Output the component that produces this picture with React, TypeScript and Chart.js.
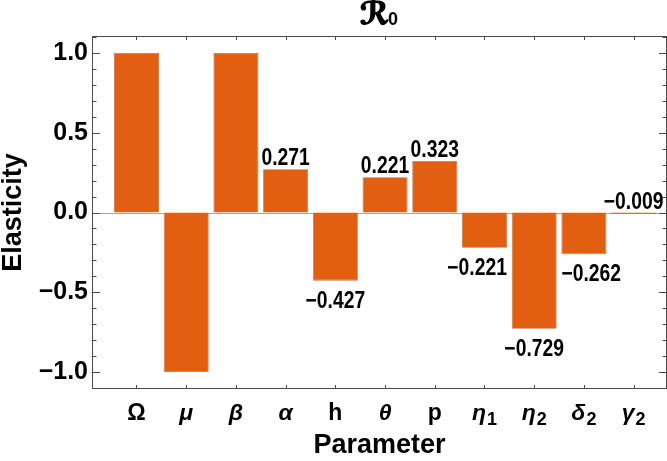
import { useEffect, useRef } from "react";
import { Chart, registerables } from "chart.js";

Chart.register(...registerables);

// parameters on the x axis (base symbol + subscript)
const paramSymbols = ["Ω", "μ", "β", "α", "h", "θ", "p", "η", "η", "δ", "γ"];
const paramSubscripts = ["", "", "", "", "", "", "", "1", "2", "2", "2"];
const italicParams = [false, true, true, true, false, true, false, true, true, true, true];

// elasticity indices of R0
const elasticity = [1.0, -1.0, 1.0, 0.271, -0.427, 0.221, 0.323, -0.221, -0.729, -0.262, -0.009];
const valueLabels = ["", "", "", "0.271", "−0.427", "0.221", "0.323", "−0.221", "−0.729", "−0.262", "−0.009"];

const yTicks = [-1, -0.5, 0, 0.5, 1];

// where each value label sits relative to its bar
const labelSide = ["", "", "", "above", "below", "above", "above", "below", "below", "below", "above"];
const labelAlign = ["center", "center", "center", "center", "center", "center", "center", "right", "center", "left", "center"];

const SANS = '"Liberation Sans", Arial, sans-serif';
const BAR_COLOR = "#E25E10";
const NARROW_SCALE = 0.84;

const fmt = (v: number) => v.toFixed(1).replace("-", "−");

const framePlugin = {
  id: "mmaFrame",
  beforeDatasetsDraw(chart: any) {
    const { ctx, chartArea: a, scales } = chart;
    const y0 = Math.round(scales.y.getPixelForValue(0)) + 0.5;
    ctx.save();
    ctx.strokeStyle = "#a6a6a6";
    ctx.lineWidth = 1;
    ctx.beginPath();
    ctx.moveTo(a.left, y0);
    ctx.lineTo(a.right, y0);
    ctx.stroke();
    ctx.restore();
  },
  afterDatasetsDraw(chart: any) {
    const { ctx, chartArea: a, scales } = chart;
    const xs = scales.x;
    const ys = scales.y;
    ctx.save();

    // frame
    ctx.strokeStyle = "#4a4a4a";
    ctx.lineWidth = 1;
    ctx.strokeRect(a.left + 0.5, a.top + 0.5, a.right - a.left - 1, a.bottom - a.top - 1);

    // inward ticks, left and right
    ctx.beginPath();
    const kMin = Math.ceil(ys.min * 10);
    const kMax = Math.floor(ys.max * 10);
    for (let k = kMin; k <= kMax; k++) {
      const py = Math.round(ys.getPixelForValue(k / 10)) + 0.5;
      const len = k % 5 === 0 ? 8 : 4.5;
      ctx.moveTo(a.left, py);
      ctx.lineTo(a.left + len, py);
      ctx.moveTo(a.right, py);
      ctx.lineTo(a.right - len, py);
    }
    // inward ticks, top and bottom (at bar centres)
    xs.ticks.forEach((t: any) => {
      const px = Math.round(xs.getPixelForValue(t.value)) + 0.5;
      ctx.moveTo(px, a.top);
      ctx.lineTo(px, a.top + 4);
      ctx.moveTo(px, a.bottom);
      ctx.lineTo(px, a.bottom - 4);
    });
    ctx.stroke();

    // value labels (condensed bold)
    const meta = chart.getDatasetMeta(0);
    ctx.fillStyle = "#000";
    ctx.font = `bold 23px ${SANS}`;
    ctx.textBaseline = "alphabetic";
    meta.data.forEach((bar: any, i: number) => {
      const txt = valueLabels[i];
      if (!txt) return;
      const { x, y, base, width } = bar.getProps(["x", "y", "base", "width"], true);
      const top = Math.min(y, base);
      const bottom = Math.max(y, base);
      const by = labelSide[i] === "above" ? top - 4 : bottom + 27;
      const tw = ctx.measureText(txt).width * NARROW_SCALE;
      let left = x - tw / 2;
      if (labelAlign[i] === "right") left = x + width / 2 - tw;
      else if (labelAlign[i] === "left") left = x - width / 2;
      ctx.save();
      ctx.translate(left, by);
      ctx.scale(NARROW_SCALE, 1);
      ctx.textAlign = "left";
      ctx.fillText(txt, 0, 0);
      ctx.restore();
    });

    // x tick labels with subscripts
    ctx.textAlign = "left";
    ctx.textBaseline = "alphabetic";
    const mainFont = (i: number) => `${italicParams[i] ? "italic " : ""}bold 23px ${SANS}`;
    const subFont = `bold 18px ${SANS}`;
    xs.ticks.forEach((t: any, i: number) => {
      const cx = xs.getPixelForValue(t.value);
      ctx.font = mainFont(i);
      const w1 = ctx.measureText(paramSymbols[i]).width;
      ctx.font = subFont;
      const w2 = paramSubscripts[i] ? ctx.measureText(paramSubscripts[i]).width + 1 : 0;
      const start = cx - (w1 + w2) / 2;
      ctx.font = mainFont(i);
      ctx.fillText(paramSymbols[i], start, a.bottom + 31);
      if (paramSubscripts[i]) {
        ctx.font = subFont;
        ctx.fillText(paramSubscripts[i], start + w1 + 1, a.bottom + 36);
      }
    });

    // title: script R with subscript 0
    const tcx = (a.left + a.right) / 2;
    const rFont = `bold 31px "DejaVu Sans", sans-serif`;
    ctx.font = rFont;
    const r = "ℛ";
    const wr = ctx.measureText(r).width;
    ctx.font = `bold 18px ${SANS}`;
    const w0 = ctx.measureText("0").width;
    const ts = tcx - (wr + w0) / 2;
    ctx.font = rFont;
    ctx.strokeStyle = "#000";
    ctx.lineWidth = 1.3;
    ctx.lineJoin = "round";
    ctx.fillText(r, ts, 24);
    ctx.strokeText(r, ts, 24);
    ctx.font = `bold 18px ${SANS}`;
    ctx.fillText("0", ts + wr - 1, 25);

    ctx.restore();
  },
};

export default function App() {
  const canvasRef = useRef<HTMLCanvasElement>(null);

  useEffect(() => {
    if (!canvasRef.current) return;
    const ctx = canvasRef.current.getContext("2d");
    if (!ctx) return;

    const chart = new Chart(ctx, {
      type: "bar",
      data: {
        datasets: [
          {
            data: elasticity.map((v, i) => ({ x: i + 1, y: v })),
            backgroundColor: BAR_COLOR,
            borderColor: "#C4703F",
            borderWidth: 0.8,
            categoryPercentage: 1,
            barPercentage: 0.905,
          },
        ],
      },
      options: {
        responsive: true,
        maintainAspectRatio: false,
        animation: false,
        layout: { padding: { top: 36, right: 0, left: 0, bottom: 0 } },
        plugins: {
          legend: { display: false },
          tooltip: { enabled: false },
        },
        scales: {
          x: {
            type: "linear",
            offset: false,
            min: 0.1048,
            max: 11.672,
            afterBuildTicks: (s: any) => {
              s.ticks = paramSymbols.map((_, i) => ({ value: i + 1 }));
            },
            afterFit: (s: any) => {
              s.height = 72;
            },
            grid: { display: false, drawTicks: false, offset: false },
            border: { display: false },
            ticks: { display: false },
            title: {
              display: true,
              text: "Parameter",
              color: "#000",
              font: { family: SANS, size: 27, weight: "bold", lineHeight: 1 },
              padding: { top: 0, bottom: 2 },
            },
          },
          y: {
            min: -1.106,
            max: 1.106,
            afterBuildTicks: (s: any) => {
              s.ticks = yTicks.map((v) => ({ value: v }));
            },
            afterFit: (s: any) => {
              s.width = 92;
            },
            grid: { display: false, drawTicks: false },
            border: { display: false },
            ticks: {
              color: "#000",
              padding: 4,
              font: { family: SANS, size: 25, weight: "bold" },
              callback: (v: any) => fmt(Number(v)),
            },
            title: {
              display: true,
              text: "Elasticity",
              color: "#000",
              font: { family: SANS, size: 27, weight: "bold", lineHeight: 1 },
              padding: { top: 0, bottom: 0 },
            },
          },
        },
      },
      plugins: [framePlugin],
    });

    return () => chart.destroy();
  }, []);

  return (
    <div style={{ position: "fixed", left: 0, top: 0, width: 667, height: 461, background: "#fff" }}>
      <canvas ref={canvasRef} />
    </div>
  );
}
